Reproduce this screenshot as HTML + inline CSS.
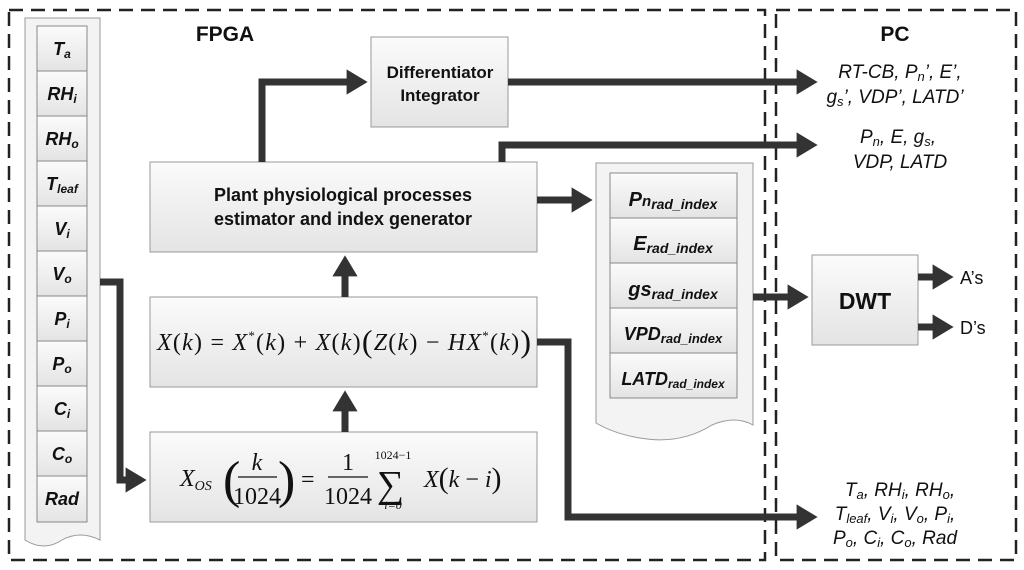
<!DOCTYPE html>
<html><head><meta charset="utf-8"><style>
body{margin:0;background:#fff}
svg{display:block}
text{font-family:"Liberation Sans",sans-serif;fill:#111}
.b{font-weight:bold}
.r, .r text{font-family:"Liberation Serif",serif}
</style></head><body>
<svg width="1024" height="570" viewBox="0 0 1024 570" xmlns="http://www.w3.org/2000/svg">
<defs>
<linearGradient id="g" x1="0" y1="0" x2="0" y2="1"><stop offset="0" stop-color="#fbfbfb"/><stop offset="1" stop-color="#e4e4e4"/></linearGradient>
<marker id="a" markerWidth="4" markerHeight="4" refX="2.2" refY="2" orient="auto" markerUnits="strokeWidth"><path d="M0,0.2 L3,2 L0,3.8 z" fill="#333"/></marker>
</defs>
<rect x="9" y="10" width="756" height="550" fill="none" stroke="#222" stroke-width="2.5" stroke-dasharray="14,8"/>
<rect x="776" y="10" width="240" height="550" fill="none" stroke="#222" stroke-width="2.5" stroke-dasharray="14,8"/>
<text x="225" y="41" class="b" font-size="21" text-anchor="middle">FPGA</text>
<text x="895" y="41" class="b" font-size="21" text-anchor="middle">PC</text>
<path d="M25,18 H100 V540 Q80,530 62,540 Q44,552 25,540 Z" fill="#f3f3f3" stroke="#999"/>
<g stroke="#888" fill="url(#g)">
<rect x="37" y="26" width="50" height="45"/><rect x="37" y="71" width="50" height="45"/><rect x="37" y="116" width="50" height="45"/><rect x="37" y="161" width="50" height="45"/><rect x="37" y="206" width="50" height="45"/><rect x="37" y="251" width="50" height="45"/><rect x="37" y="296" width="50" height="45"/><rect x="37" y="341" width="50" height="45"/><rect x="37" y="386" width="50" height="45"/><rect x="37" y="431" width="50" height="45"/><rect x="37" y="476" width="50" height="46"/>
</g>
<g class="b" font-size="18" font-style="italic" text-anchor="middle">
<text x="62" y="55">T<tspan font-size="12" dy="3">a</tspan></text>
<text x="62" y="100">RH<tspan font-size="12" dy="3">i</tspan></text>
<text x="62" y="145">RH<tspan font-size="12" dy="3">o</tspan></text>
<text x="62" y="190">T<tspan font-size="12" dy="3">leaf</tspan></text>
<text x="62" y="235">V<tspan font-size="12" dy="3">i</tspan></text>
<text x="62" y="280">V<tspan font-size="12" dy="3">o</tspan></text>
<text x="62" y="325">P<tspan font-size="12" dy="3">i</tspan></text>
<text x="62" y="370">P<tspan font-size="12" dy="3">o</tspan></text>
<text x="62" y="415">C<tspan font-size="12" dy="3">i</tspan></text>
<text x="62" y="460">C<tspan font-size="12" dy="3">o</tspan></text>
<text x="62" y="505">Rad</text>
</g>
<g stroke="#999" fill="url(#g)">
<rect x="371" y="37" width="137" height="90"/>
<rect x="150" y="162" width="387" height="90"/>
<rect x="150" y="297" width="387" height="90"/>
<rect x="150" y="432" width="387" height="90"/>
<rect x="812" y="255" width="106" height="90"/>
</g>
<text x="440" y="78" class="b" font-size="17" text-anchor="middle">Differentiator</text>
<text x="440" y="101" class="b" font-size="17" text-anchor="middle">Integrator</text>
<text x="343" y="201" class="b" font-size="18" text-anchor="middle">Plant physiological processes</text>
<text x="343" y="225" class="b" font-size="18" text-anchor="middle">estimator and index generator</text>
<text x="865" y="309" class="b" font-size="23" text-anchor="middle">DWT</text>
<text x="157" y="350" class="r" font-size="24" textLength="374" lengthAdjust="spacing"><tspan font-style="italic">X</tspan>(<tspan font-style="italic">k</tspan>) = <tspan font-style="italic">X</tspan><tspan font-size="13" dy="-10">*</tspan><tspan dy="10">(</tspan><tspan font-style="italic">k</tspan>) + <tspan font-style="italic">X</tspan>(<tspan font-style="italic">k</tspan>)<tspan font-size="32" dy="2">(</tspan><tspan font-style="italic" dy="-2">Z</tspan>(<tspan font-style="italic">k</tspan>) − <tspan font-style="italic">HX</tspan><tspan font-size="13" dy="-10">*</tspan><tspan dy="10">(</tspan><tspan font-style="italic">k</tspan>)<tspan font-size="32" dy="2">)</tspan></text>
<g class="r" font-size="24">
<text x="180" y="486" font-style="italic">X<tspan font-size="14" dy="4">OS</tspan></text>
<text x="223" y="497" font-size="52">(</text>
<text x="257" y="470" font-style="italic" text-anchor="middle">k</text>
<line x1="238" y1="477" x2="277" y2="477" stroke="#111" stroke-width="1.2"/>
<text x="257" y="504" text-anchor="middle">1024</text>
<text x="278" y="497" font-size="52">)</text>
<text x="301" y="487">=</text>
<text x="348" y="470" text-anchor="middle">1</text>
<line x1="328" y1="477" x2="368" y2="477" stroke="#111" stroke-width="1.2"/>
<text x="348" y="504" text-anchor="middle">1024</text>
<text x="377" y="497" font-size="38">∑</text>
<text x="393" y="459" font-size="12" text-anchor="middle">1024−1</text>
<text x="393" y="509" font-size="12" text-anchor="middle" font-style="italic">i=0</text>
<text x="424" y="487"><tspan font-style="italic">X</tspan><tspan font-size="30" dy="1">(</tspan><tspan dy="-1" font-style="italic">k</tspan> − <tspan font-style="italic">i</tspan><tspan font-size="30" dy="1">)</tspan></text>
</g>
<path d="M596,163 H753 V425 Q735,415 712,425 Q680,445 640,438 Q615,434 596,423 Z" fill="#f3f3f3" stroke="#999"/>
<g stroke="#888" fill="url(#g)">
<rect x="610" y="173" width="127" height="45"/><rect x="610" y="218" width="127" height="45"/><rect x="610" y="263" width="127" height="45"/><rect x="610" y="308" width="127" height="45"/><rect x="610" y="353" width="127" height="45"/>
</g>
<g class="b" font-style="italic" text-anchor="middle" font-size="20">
<text x="673" y="206">P<tspan font-size="15">n</tspan><tspan font-size="14" dy="3">rad_index</tspan></text>
<text x="673" y="250">E<tspan font-size="14" dy="3">rad_index</tspan></text>
<text x="673" y="296">gs<tspan font-size="14" dy="3">rad_index</tspan></text>
<text x="673" y="340" font-size="18">VPD<tspan font-size="13" dy="3">rad_index</tspan></text>
<text x="673" y="385" font-size="18">LATD<tspan font-size="12" dy="3">rad_index</tspan></text>
</g>
<g fill="none" stroke="#333" stroke-width="7" stroke-linejoin="miter">
<path d="M508,82 H812" marker-end="url(#a)"/>
<path d="M262,162 V82 H362" marker-end="url(#a)"/>
<path d="M502,162 V145 H812" marker-end="url(#a)"/>
<path d="M537,200 H587" marker-end="url(#a)"/>
<path d="M345,297 V261" marker-end="url(#a)"/>
<path d="M345,432 V396" marker-end="url(#a)"/>
<path d="M100,282 H120 V480 H141" marker-end="url(#a)"/>
<path d="M537,342 H568 V517 H812" marker-end="url(#a)"/>
<path d="M753,297 H803" marker-end="url(#a)"/>
<path d="M918,277 H948" marker-end="url(#a)"/>
<path d="M918,327 H948" marker-end="url(#a)"/>
</g>
<g font-size="19" text-anchor="middle" font-style="italic">
<text x="900" y="78">RT-CB, P<tspan font-size="13" dy="3">n</tspan><tspan dy="-3">’, E’,</tspan></text>
<text x="895" y="103">g<tspan font-size="13" dy="3">s</tspan><tspan dy="-3">’, VDP’, LATD’</tspan></text>
<text x="898" y="143">P<tspan font-size="13" dy="3">n</tspan><tspan dy="-3">, E, g</tspan><tspan font-size="13" dy="3">s</tspan><tspan dy="-3">,</tspan></text>
<text x="900" y="168">VDP, LATD</text>
<text x="900" y="496">T<tspan font-size="13" dy="3">a</tspan><tspan dy="-3">, RH</tspan><tspan font-size="13" dy="3">i</tspan><tspan dy="-3">, RH</tspan><tspan font-size="13" dy="3">o</tspan><tspan dy="-3">,</tspan></text>
<text x="895" y="520">T<tspan font-size="13" dy="3">leaf</tspan><tspan dy="-3">, V</tspan><tspan font-size="13" dy="3">i</tspan><tspan dy="-3">, V</tspan><tspan font-size="13" dy="3">o</tspan><tspan dy="-3">, P</tspan><tspan font-size="13" dy="3">i</tspan><tspan dy="-3">,</tspan></text>
<text x="895" y="544">P<tspan font-size="13" dy="3">o</tspan><tspan dy="-3">, C</tspan><tspan font-size="13" dy="3">i</tspan><tspan dy="-3">, C</tspan><tspan font-size="13" dy="3">o</tspan><tspan dy="-3">, Rad</tspan></text>
</g>
<text x="960" y="284" font-size="18">A’s</text>
<text x="960" y="334" font-size="18">D’s</text>
</svg>
</body></html>
